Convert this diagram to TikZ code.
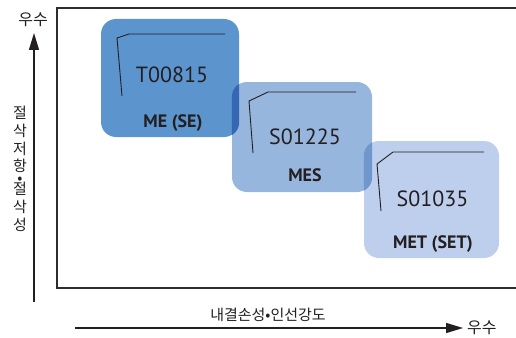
\documentclass[tikz,border=0pt]{standalone}
\usepackage{fontspec}
\setmainfont{PT Sans}
\newfontfamily\kr{Noto Sans CJK KR}
\usetikzlibrary{arrows.meta}
\definecolor{txt}{RGB}{35,31,32}
\definecolor{framec}{RGB}{45,45,45}
\definecolor{bxa}{RGB}{92,148,206}
\definecolor{bxb}{RGB}{150,182,222}
\definecolor{bxc}{RGB}{189,207,236}
\definecolor{ovab}{RGB}{52,104,180}
\definecolor{ovbc}{RGB}{112,150,206}
\begin{document}
\begin{tikzpicture}[x=1pt,y=-1pt,
  tilebox/.style={rounded corners=15pt, inner sep=0pt, draw=none},
  code/.style={anchor=base, text=txt, font=\fontsize{22}{26}\selectfont},
  grade/.style={anchor=base, text=txt, font=\fontsize{18}{21}\selectfont\bfseries},
  tool/.style={draw=txt, line width=0.9pt},
  axis/.style={draw=txt, line width=1.4pt, -{Triangle[length=17pt,width=10pt]}},
  krlab/.style={text=txt, inner sep=0pt, font=\kr\fontsize{15}{17.7}\selectfont},
  krbig/.style={text=txt, inner sep=0pt, font=\kr\fontsize{16}{18}\selectfont}]
\useasboundingbox (0,0) rectangle (516,337);
% frame
\draw[framec, line width=1.4pt] (516,8) -- (57,8) -- (57,288) -- (516,288);
% boxes
\node[tilebox, fill=bxa, minimum width=138pt, minimum height=118pt] (b1) at (170,78) {};
\node[tilebox, fill=bxb, minimum width=140pt, minimum height=110pt] (b2) at (302,137) {};
\begin{scope}
  \clip[rounded corners=15pt] (b1.south west) rectangle (b1.north east);
  \fill[ovab, rounded corners=15pt] (b2.south west) rectangle (b2.north east);
\end{scope}
\node[tilebox, fill=bxc, minimum width=135pt, minimum height=117pt] (b3) at (431.5,199.5) {};
\begin{scope}
  \clip[rounded corners=15pt] (b2.south west) rectangle (b2.north east);
  \fill[ovbc, rounded corners=15pt] (b3.south west) rectangle (b3.north east);
\end{scope}
% tool outlines
\draw[tool] (122,96) -- (117,38) -- (129,34) -- (225,34);
\draw[tool] (253,153) -- (249,101) -- (268,92) -- (356,92);
\draw[tool] (381,211) -- (377,164) -- (393,152) -- (484,152);
% texts
\node[code] (t1) at (172,82) {T00815};
\node[grade] (g1) at (173,127) {ME (SE)};
\node[code] (t2) at (305,144) {S01225};
\node[grade] (g2) at (305,181) {MES};
\node[code] (t3) at (432.5,206) {S01035};
\node[grade] (g3) at (433,248) {MET (SET)};
% axes
\coordinate (ys) at (34,302);
\coordinate (ye) at (34,33);
\coordinate (xs) at (75,328);
\coordinate (xe) at (463,328);
\draw[axis] (ys) -- (ye);
\draw[axis] (xs) -- (xe);
\node[krbig] (ytop) at (33,20) {우수};
\node[krbig, anchor=west] (xend) at (467,328) {우수};
\node[krlab] (xlab) at (268,315) {내결손성•인선강도};
\node[krlab, align=center, anchor=north] (ylab) at (20,106)
  {절\\삭\\저\\항\\[-6.2pt]\smash{•}\\[-6.2pt]절\\삭\\성};
\end{tikzpicture}
\end{document}
